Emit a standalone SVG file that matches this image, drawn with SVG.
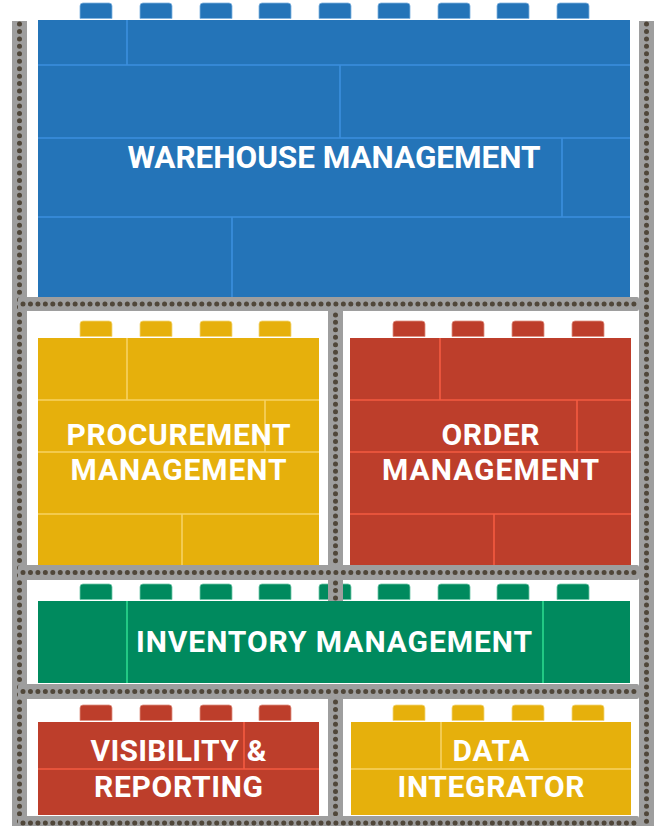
<svg xmlns="http://www.w3.org/2000/svg" xmlns:xlink="http://www.w3.org/1999/xlink" width="658" height="826" viewBox="0 0 658 826">
<defs>
<style>
.bar{fill:#9e9e9e}
.dots{fill:none;stroke:#50473a;stroke-width:5;stroke-linecap:round;stroke-dasharray:0 7.45}
.lbl{font-family:Roboto,"Liberation Sans",sans-serif;font-weight:700;fill:#ffffff;text-anchor:middle;font-size:30px}
.big{font-size:31.5px}
.ln{fill:none;stroke-width:1.6}
.blue{fill:#2474b8}.blue-s{fill:#2474b8;stroke:#7fb3df;stroke-width:0.8}.blue-l{stroke:#3b8fde}
.yel{fill:#e6b00c}.yel-s{fill:#e6b00c;stroke:#f3d77a;stroke-width:0.8}.yel-l{stroke:#f7d263}
.red{fill:#bd3e2b}.red-s{fill:#bd3e2b;stroke:#de8f80;stroke-width:0.8}.red-l{stroke:#f45b41}
.grn{fill:#008a5e}.grn-s{fill:#008a5e;stroke:#6fc7a8;stroke-width:0.8}.grn-l{stroke:#2bd98e}
</style>
<path id="stud" d="M0,15.5 V3 Q0,0 3,0 H29 Q32,0 32,3 V15.5 Z"/>
</defs>
<rect width="658" height="826" fill="#ffffff"/>

<g id="warehouse-management">
<g class="blue-s">
<use href="#stud" x="80" y="3"/><use href="#stud" x="140" y="3"/><use href="#stud" x="200" y="3"/><use href="#stud" x="259" y="3"/><use href="#stud" x="319" y="3"/><use href="#stud" x="378" y="3"/><use href="#stud" x="438" y="3"/><use href="#stud" x="497" y="3"/><use href="#stud" x="557" y="3"/>
</g>
<rect class="blue" x="38" y="20" width="592" height="277"/>
<path class="ln blue-l" d="M127,20V65M38,65H630M340,65V138M38,138H630M562,138V217M38,217H630M232,217V297"/>
<text class="lbl big" x="334" y="168" textLength="413" lengthAdjust="spacing">WAREHOUSE MANAGEMENT</text>
</g>

<g id="procurement-management">
<g class="yel-s">
<use href="#stud" x="80" y="321"/><use href="#stud" x="140" y="321"/><use href="#stud" x="200" y="321"/><use href="#stud" x="259" y="321"/>
</g>
<rect class="yel" x="38" y="338" width="281" height="227"/>
<path class="ln yel-l" d="M127,338V400M38,400H319M265,400V452M38,452H319M38,514H319M182,514V565"/>
<text class="lbl" x="178.5" y="445" textLength="224" lengthAdjust="spacing">PROCUREMENT</text>
<text class="lbl" x="178.5" y="480" textLength="216" lengthAdjust="spacing">MANAGEMENT</text>
</g>

<g id="order-management">
<g class="red-s">
<use href="#stud" x="393" y="321"/><use href="#stud" x="452" y="321"/><use href="#stud" x="512" y="321"/><use href="#stud" x="572" y="321"/>
</g>
<rect class="red" x="350" y="338" width="281" height="227"/>
<path class="ln red-l" d="M440,338V400M350,400H631M577,400V452M350,452H631M350,514H631M494,514V565"/>
<text class="lbl" x="490.5" y="445" textLength="98" lengthAdjust="spacing">ORDER</text>
<text class="lbl" x="490.5" y="480" textLength="217" lengthAdjust="spacing">MANAGEMENT</text>
</g>

<g id="inventory-management">
<g class="grn-s">
<use href="#stud" x="80" y="584"/><use href="#stud" x="140" y="584"/><use href="#stud" x="200" y="584"/><use href="#stud" x="259" y="584"/><use href="#stud" x="319" y="584"/><use href="#stud" x="378" y="584"/><use href="#stud" x="438" y="584"/><use href="#stud" x="497" y="584"/><use href="#stud" x="557" y="584"/>
</g>
</g>

<g id="frame">
<rect class="bar" x="12" y="21" width="15" height="810"/>
<line class="dots" x1="19.5" y1="24" x2="19.5" y2="826"/>
<rect class="bar" x="639" y="21" width="15" height="810"/>
<line class="dots" x1="646.5" y1="24" x2="646.5" y2="826"/>
<rect class="bar" x="328" y="297" width="15" height="304"/>
<line class="dots" x1="335.5" y1="300" x2="335.5" y2="600"/>
<rect class="bar" x="328" y="699" width="15" height="118"/>
<line class="dots" x1="335.5" y1="702" x2="335.5" y2="816"/>
<rect class="bar" x="18" y="297" width="621" height="14" rx="2"/>
<line class="dots" x1="23" y1="304" x2="636" y2="304"/>
<rect class="bar" x="18" y="565" width="621" height="15" rx="2"/>
<line class="dots" x1="23" y1="572.5" x2="636" y2="572.5"/>
<rect class="bar" x="18" y="684" width="621" height="15" rx="2"/>
<line class="dots" x1="23" y1="691.5" x2="636" y2="691.5"/>
<rect class="bar" x="18" y="816" width="621" height="15" rx="2"/>
<line class="dots" x1="23" y1="823" x2="636" y2="823"/>
</g>

<g id="inventory-block">
<rect class="grn" x="38" y="601" width="592" height="82"/>
<path class="ln grn-l" d="M127,601V683M543,601V683"/>
<text class="lbl" x="334" y="652" textLength="396" lengthAdjust="spacing">INVENTORY MANAGEMENT</text>
</g>

<g id="visibility-reporting">
<g class="red-s">
<use href="#stud" x="80" y="705"/><use href="#stud" x="140" y="705"/><use href="#stud" x="200" y="705"/><use href="#stud" x="259" y="705"/>
</g>
<rect class="red" x="38" y="722" width="281" height="93"/>
<path class="ln red-l" d="M244,722V769M38,769H319"/>
<text class="lbl" x="178.5" y="761" textLength="176" lengthAdjust="spacing">VISIBILITY &amp;</text>
<text class="lbl" x="178.5" y="797" textLength="169" lengthAdjust="spacing">REPORTING</text>
</g>

<g id="data-integrator">
<g class="yel-s">
<use href="#stud" x="393" y="705"/><use href="#stud" x="452" y="705"/><use href="#stud" x="512" y="705"/><use href="#stud" x="572" y="705"/>
</g>
<rect class="yel" x="351" y="722" width="280" height="93"/>
<path class="ln yel-l" d="M441,722V769M351,769H631"/>
<text class="lbl" x="491" y="761" textLength="77" lengthAdjust="spacing">DATA</text>
<text class="lbl" x="491" y="797" textLength="187" lengthAdjust="spacing">INTEGRATOR</text>
</g>
</svg>
